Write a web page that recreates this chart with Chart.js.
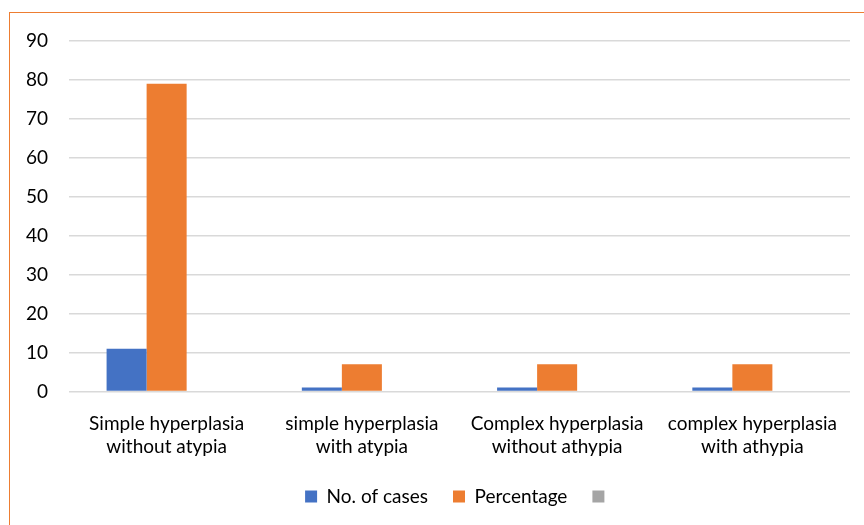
<!DOCTYPE html>
<html>
<head>
<meta charset="utf-8">
<script src="https://cdn.jsdelivr.net/npm/chart.js@4/dist/chart.umd.min.js"></script>
<style>
  html, body { margin: 0; padding: 0; background: #fff; overflow: hidden; width: 864px; height: 525px; }
  #caption { position: absolute; left: 188px; top: -33px; font-family: "Liberation Serif", serif; font-size: 30px; color: #000; white-space: nowrap; }
  #frame { position: absolute; left: 9px; top: 12px; width: 900px; height: 600px; border-left: 1.5px solid #ed7d31; border-top: 1.5px solid #ed7d31; }
  #wrap { position: absolute; left: 10px; top: 14px; width: 854px; height: 511px; }
</style>
</head>
<body>
<div id="caption">hyperplasia</div>
<div id="frame"></div>
<div id="wrap"><canvas id="chart"></canvas></div>
<script>
// categories, split into two lines like the original
const categories = [
  ['Simple hyperplasia', 'without atypia'],
  ['simple hyperplasia', 'with atypia'],
  ['Complex hyperplasia', 'without athypia'],
  ['complex hyperplasia', 'with athypia']
];
const noOfCases = [11, 1, 1, 1];
const percentage = [79, 7, 7, 7];
const emptySeries = [null, null, null, null];
const yTicks = [0, 10, 20, 30, 40, 50, 60, 70, 80, 90];

const ctx = document.getElementById('chart').getContext('2d');
Chart.defaults.font.family = 'Lato, "Open Sans", sans-serif';
Chart.defaults.font.size = 19;
Chart.defaults.color = '#000';

new Chart(ctx, {
  type: 'bar',
  data: {
    labels: categories,
    datasets: [
      { label: 'No. of cases', data: noOfCases, backgroundColor: '#4472c4' },
      { label: 'Percentage', data: percentage, backgroundColor: '#ed7d31' },
      { label: '', data: emptySeries, backgroundColor: '#a5a5a5' }
    ]
  },
  options: {
    responsive: true,
    maintainAspectRatio: false,
    animation: false,
    categoryPercentage: 0.615,
    barPercentage: 1,
    layout: { padding: { top: 27, right: 14, bottom: 9, left: 0 } },
    plugins: {
      tooltip: { enabled: false },
      legend: {
        position: 'bottom',
        fullSize: false,
        labels: { boxWidth: 12, boxHeight: 12, padding: 25, font: { size: 19 } }
      }
    },
    scales: {
      x: {
        grid: { display: false },
        border: { display: false },
        afterFit: (scale) => { scale.height = 70.5; },
        ticks: { padding: 12, maxRotation: 0, autoSkip: false, font: { lineHeight: 1.25 } }
      },
      y: {
        min: 0,
        max: 90,
        afterFit: (scale) => {
          scale.width = 59;
          scale.paddingTop = 10;
          scale.paddingBottom = 10;
        },
        afterBuildTicks: (scale) => { scale.ticks = yTicks.map(v => ({ value: v })); },
        grid: { color: '#d9d9d9', lineWidth: 1.5, drawTicks: false },
        border: { display: false },
        ticks: { padding: 21 }
      }
    }
  }
});
</script>
</body>
</html>
